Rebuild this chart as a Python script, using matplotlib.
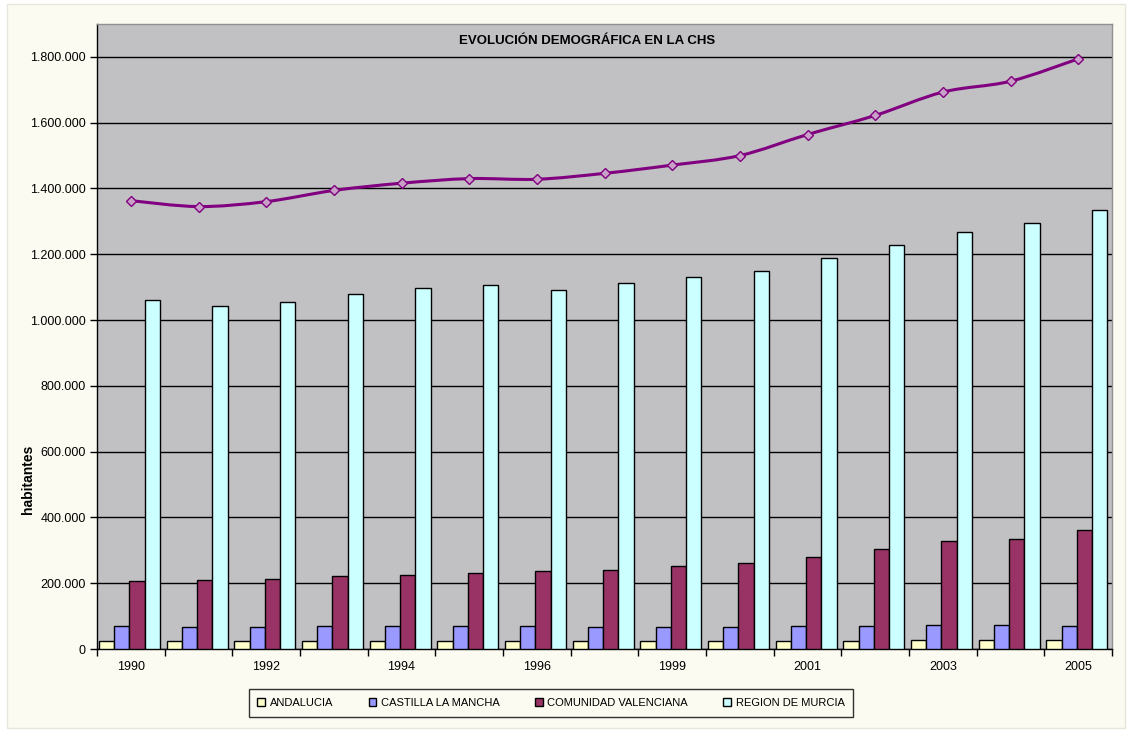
import matplotlib
matplotlib.use("Agg")
import matplotlib.pyplot as plt
import numpy as np
from matplotlib.patches import Rectangle, PathPatch
from matplotlib.path import Path
from matplotlib.ticker import FuncFormatter, MultipleLocator

plt.rcParams['font.family'] = ['Liberation Sans', 'DejaVu Sans']

years = ["1990", "1991", "1992", "1993", "1994", "1995", "1996", "1998",
         "1999", "2000", "2001", "2002", "2003", "2004", "2005"]
andalucia = [24000, 24000, 24000, 24000, 24000, 24000, 24000, 24000,
             24000, 24000, 24000, 24000, 28000, 28000, 28000]
castilla = [70000, 66000, 66000, 70000, 70000, 70000, 70000, 67000,
            67000, 67000, 70000, 70000, 74000, 74000, 70000]
valenciana = [207000, 210000, 213000, 222000, 225000, 231000, 237000, 240000,
              252000, 261000, 280000, 304000, 328000, 334000, 362000]
murcia = [1061000, 1043000, 1055000, 1079000, 1097000, 1106000, 1091000, 1112000,
          1131000, 1149000, 1188000, 1228000, 1267000, 1295000, 1334000]
total = [1363000, 1345000, 1360000, 1394000, 1416000, 1430000, 1428000, 1446000,
         1471000, 1500000, 1564000, 1622000, 1693000, 1726000, 1794000]

series = [("ANDALUCIA", andalucia, "#FFFFCC"),
          ("CASTILLA LA MANCHA", castilla, "#9999FF"),
          ("COMUNIDAD VALENCIANA", valenciana, "#993366"),
          ("REGION DE MURCIA", murcia, "#CCFFFF")]

fig = plt.figure(figsize=(11.29, 7.31), dpi=100)
fig.patch.set_facecolor("white")
fig.add_artist(Rectangle((7 / 1129, 3 / 731), 1118 / 1129, 724 / 731,
                         transform=fig.transFigure, facecolor="#FBFBF1",
                         edgecolor="#E6E6DC", linewidth=1, zorder=-10))

ax = fig.add_axes([97 / 1129, 1 - 649 / 731, 1015 / 1129, 625 / 731])
ax.set_facecolor("#C1C0C3")

x = np.arange(len(years))
bw = 0.225
offsets = (np.arange(4) - 1.5) * bw - 0.02
handles = []
for (name, vals, col), off in zip(series, offsets):
    h = ax.bar(x + off, vals, width=bw, color=col, edgecolor="black",
               linewidth=1.0, label=name, zorder=3)
    handles.append(h)

# smoothed total line (Catmull-Rom through the data points)
px = x.astype(float)
py = np.array(total, dtype=float)
verts = [(px[0], py[0])]
codes = [Path.MOVETO]
n = len(px)
for i in range(n - 1):
    p0 = (px[max(i - 1, 0)], py[max(i - 1, 0)])
    p1 = (px[i], py[i])
    p2 = (px[i + 1], py[i + 1])
    p3 = (px[min(i + 2, n - 1)], py[min(i + 2, n - 1)])
    c1 = (p1[0] + (p2[0] - p0[0]) / 6, p1[1] + (p2[1] - p0[1]) / 6)
    c2 = (p2[0] - (p3[0] - p1[0]) / 6, p2[1] - (p3[1] - p1[1]) / 6)
    verts += [c1, c2, p2]
    codes += [Path.CURVE4] * 3
ax.add_patch(PathPatch(Path(verts, codes), facecolor="none",
                       edgecolor="#800080", linewidth=2.2, zorder=4))
ax.plot(x, total, linestyle="none", marker="D", markersize=5,
        markerfacecolor="#C8A0C8", markeredgecolor="#800080",
        markeredgewidth=1, zorder=5)

ax.set_xlim(-0.5, len(years) - 0.5)
ax.set_ylim(0, 1900000)
ax.yaxis.set_major_locator(MultipleLocator(200000))
ax.yaxis.set_major_formatter(FuncFormatter(lambda v, p: f"{int(v):,}".replace(",", ".")))
ax.grid(axis="y", color="black", linewidth=1, zorder=1)
ax.set_axisbelow(True)

ax.set_xticks(x[::2])
ax.set_xticklabels(years[::2])
ax.set_xticks(np.arange(len(years) + 1) - 0.5, minor=True)
ax.tick_params(axis="x", which="major", length=0, pad=9, labelsize=9)
ax.tick_params(axis="x", which="minor", length=5, width=1, color="black")
ax.tick_params(axis="y", length=5, width=1, labelsize=9, pad=3)

for s in ["left", "bottom"]:
    ax.spines[s].set_color("black")
    ax.spines[s].set_linewidth(1)
for s in ["top", "right"]:
    ax.spines[s].set_color("#909090")
    ax.spines[s].set_linewidth(1)

fig.text(587 / 1129, 1 - 35 / 731, "EVOLUCIÓN DEMOGRÁFICA EN LA CHS",
         ha="center", va="top", fontsize=9.5, fontweight="bold")
fig.text(28 / 1129, 1 - 479 / 731, "habitantes", rotation=90, ha="center",
         va="center", fontsize=10, fontweight="bold")

leg = fig.legend(handles=handles, loc="center",
                 bbox_to_anchor=(551 / 1129, 1 - 703 / 731), ncol=4,
                 fontsize=8, frameon=True, fancybox=False, handlelength=0.7,
                 handleheight=0.7, handletextpad=0.4, columnspacing=3.2,
                 borderpad=0.8)
leg.get_frame().set_edgecolor("black")
leg.get_frame().set_linewidth(1)
leg.get_frame().set_facecolor("#FBFBF1")

fig.savefig("out.png", dpi=100, facecolor=fig.get_facecolor())
